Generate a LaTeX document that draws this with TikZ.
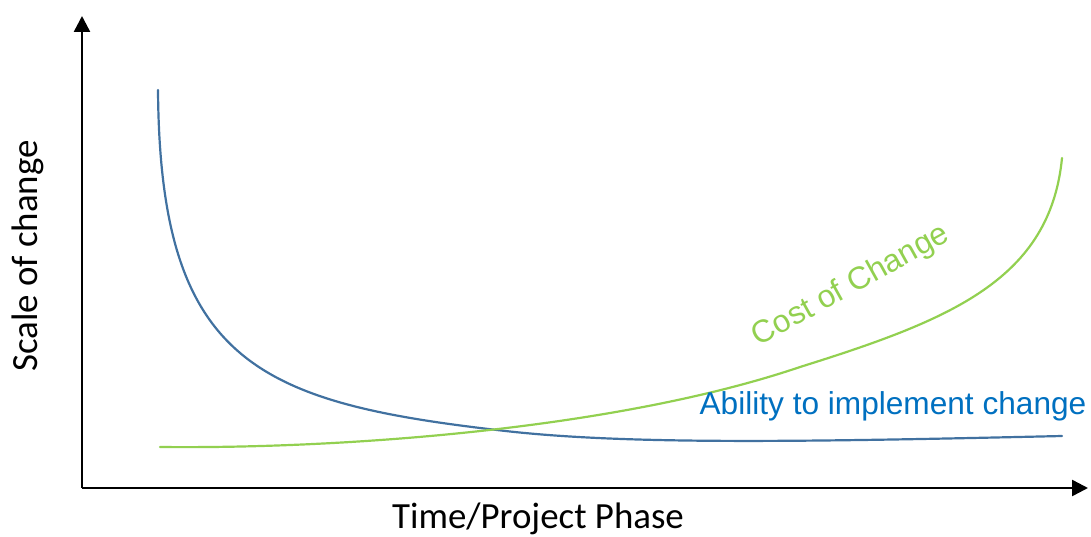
\documentclass[tikz,border=0pt]{standalone}
\usepackage{fontspec}
\setmainfont{Carlito}
\newfontfamily\arialfont{Liberation Sans}
\usetikzlibrary{arrows.meta}
\definecolor{ablblue}{RGB}{65,113,160}
\definecolor{abltext}{RGB}{0,112,192}
\definecolor{costgreen}{RGB}{146,208,80}
\begin{document}
\begin{tikzpicture}[x=0.02cm,y=-0.02cm,>={Triangle[length=0.32cm,width=0.32cm]}, line join=round, line cap=round]
            \useasboundingbox (0,0) rectangle (1091,537);
            \coordinate (O) at (82,488);
            \coordinate (ytop) at (82,16);
            \coordinate (xend) at (1088,488);
            \draw[->,line width=1.4pt,line cap=butt] (O)--(ytop);
            \draw[->,line width=1.4pt,line cap=butt] (O)--(xend);
            \node[rotate=90,font=\fontsize{21}{24}\selectfont] (ylab) at (28,256) {Scale of change};
            \node[font=\fontsize{21}{24}\selectfont] (xlab) at (538,519) {Time/Project Phase};
            % curves
            \draw[ablblue,line width=1.25pt] (158,90) .. controls (160,360) and (255,402) .. (497,430)
                .. controls (620,445) and (800,442) .. (1062,436);
            \draw[costgreen,line width=1.25pt] (160,447) .. controls (350,449) and (620,428) .. (800,367)
                .. controls (950,320) and (1050,280) .. (1062,158);
            \node[costgreen,rotate=29,font=\arialfont\fontsize{18}{21}\selectfont] (cost) at (851,286) {Cost of Change};
            \node[abltext,font=\arialfont\fontsize{18}{21}\selectfont] (abl) at (893,406) {Ability to implement change};
        \end{tikzpicture}
\end{document}
